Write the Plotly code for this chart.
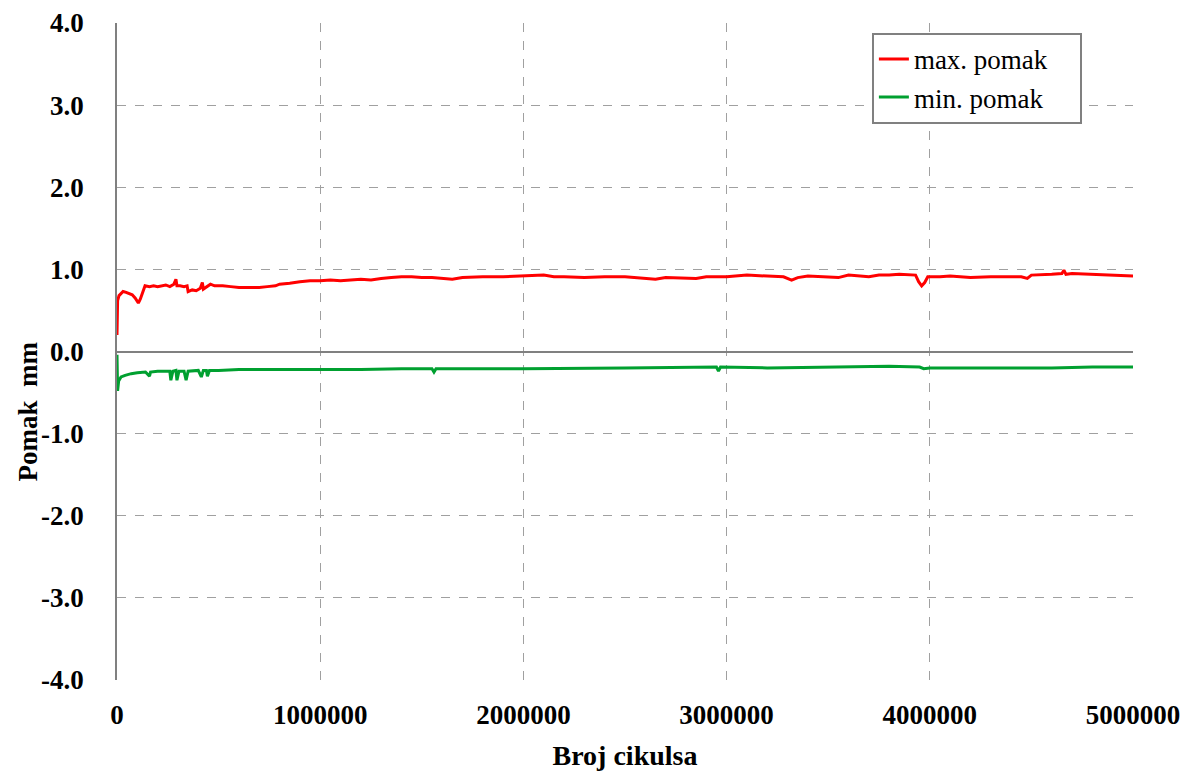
import plotly.graph_objects as go

# ---- data ----
max_x = [0, 3000, 10000, 20000, 30000, 45000, 60000, 75000, 90000, 105000, 115000, 125000,
         138000, 160000, 180000, 200000, 220000, 240000, 260000, 280000, 290000, 295000,
         310000, 330000, 345000, 350000, 370000, 390000, 410000, 420000, 425000, 440000,
         460000, 480000, 520000, 560000, 600000, 650000, 700000, 740000, 780000, 800000,
         850000, 900000, 950000, 1000000, 1050000, 1100000, 1150000, 1200000, 1250000,
         1300000, 1350000, 1400000, 1450000, 1500000, 1550000, 1600000, 1650000, 1700000,
         1800000, 1900000, 2000000, 2050000, 2100000, 2150000, 2200000, 2300000, 2400000,
         2500000, 2600000, 2650000, 2700000, 2800000, 2850000, 2900000, 3000000, 3100000,
         3200000, 3280000, 3320000, 3350000, 3400000, 3500000, 3550000, 3600000, 3650000,
         3700000, 3750000, 3800000, 3850000, 3900000, 3930000, 3945000, 3960000, 3975000,
         3990000, 4050000, 4100000, 4150000, 4200000, 4300000, 4400000, 4450000, 4480000,
         4500000, 4600000, 4650000, 4660000, 4670000, 4700000, 4800000, 4900000, 5000000]
max_y = [0.20, 0.62, 0.68, 0.70, 0.73, 0.72, 0.70, 0.69, 0.65, 0.59, 0.64, 0.72,
         0.80, 0.79, 0.80, 0.79, 0.80, 0.81, 0.79, 0.82, 0.88, 0.80,
         0.80, 0.79, 0.80, 0.73, 0.75, 0.74, 0.77, 0.84, 0.76, 0.79,
         0.82, 0.80, 0.80, 0.79, 0.78, 0.78, 0.78, 0.79, 0.80, 0.82,
         0.83, 0.85, 0.86, 0.86, 0.87, 0.86, 0.87, 0.88, 0.87,
         0.89, 0.90, 0.91, 0.91, 0.90, 0.90, 0.89, 0.88, 0.90,
         0.91, 0.91, 0.92, 0.92, 0.93, 0.91, 0.91, 0.90, 0.91,
         0.91, 0.89, 0.88, 0.90, 0.89, 0.89, 0.91, 0.91, 0.93,
         0.92, 0.91, 0.87, 0.90, 0.92, 0.91, 0.90, 0.93, 0.92,
         0.91, 0.93, 0.93, 0.94, 0.93, 0.93, 0.85, 0.80, 0.84,
         0.91, 0.91, 0.92, 0.91, 0.90, 0.91, 0.91, 0.91, 0.89,
         0.93, 0.94, 0.95, 0.99, 0.94, 0.95, 0.94, 0.93, 0.92]

min_x = [0, 3000, 8000, 20000, 40000, 70000, 100000, 140000, 160000, 165000, 200000,
         260000, 265000, 275000, 290000, 295000, 305000, 330000, 340000, 350000, 400000,
         415000, 425000, 440000, 445000, 455000, 500000, 600000, 800000, 1000000, 1200000,
         1400000, 1550000, 1560000, 1570000, 1800000, 2000000, 2500000, 2950000, 2960000,
         2970000, 3200000, 3500000, 3800000, 3950000, 3970000, 4000000, 4300000, 4600000,
         4800000, 5000000]
min_y = [-0.04, -0.48, -0.36, -0.31, -0.29, -0.27, -0.26, -0.25, -0.30, -0.25, -0.24,
         -0.24, -0.35, -0.24, -0.23, -0.35, -0.24, -0.24, -0.35, -0.24, -0.23,
         -0.31, -0.23, -0.23, -0.30, -0.23, -0.23, -0.22, -0.22, -0.22, -0.22,
         -0.21, -0.21, -0.25, -0.21, -0.21, -0.21, -0.20, -0.19, -0.24,
         -0.19, -0.20, -0.19, -0.18, -0.19, -0.21, -0.20, -0.20, -0.20,
         -0.19, -0.19]

x_ticks = [0, 1000000, 2000000, 3000000, 4000000, 5000000]
x_tick_labels = ["0", "1000000", "2000000", "3000000", "4000000", "5000000"]
y_ticks = [-4, -3, -2, -1, 0, 1, 2, 3, 4]
y_tick_labels = ["-4.0", "-3.0", "-2.0", "-1.0", "0.0", "1.0", "2.0", "3.0", "4.0"]
series_names = ["max. pomak", "min. pomak"]

FONT = "Liberation Serif"


def legend_label(txt):
    return ("<b><span style='font-weight:normal'>%s</span></b>"
            "&nbsp;&nbsp;&nbsp;&nbsp;" % txt)


fig = go.Figure()
fig.add_trace(go.Scatter(x=max_x, y=max_y, mode="lines",
                         name=legend_label(series_names[0]),
                         line=dict(color="#ff0000", width=3)))
fig.add_trace(go.Scatter(x=min_x, y=min_y, mode="lines",
                         name=legend_label(series_names[1]),
                         line=dict(color="#00a030", width=3)))

fig.update_layout(
    width=1196, height=772,
    margin=dict(l=117, r=63, t=23, b=92),
    paper_bgcolor="white", plot_bgcolor="white",
    font=dict(family=FONT, color="black", size=26),
    showlegend=True,
    legend=dict(x=0.743, y=0.985, xanchor="left", yanchor="top",
                bgcolor="white", bordercolor="#808080", borderwidth=2,
                font=dict(family=FONT, size=27, color="black"),
                tracegroupgap=0, itemwidth=30),
    xaxis=dict(range=[0, 5000000], tickmode="array", tickvals=x_ticks,
               ticktext=["<b>%s</b>" % t for t in x_tick_labels],
               tickfont=dict(family=FONT, size=27, color="black"),
               showgrid=True, gridcolor="#a0a0a0", griddash="dash", gridwidth=1,
               zeroline=False, showline=False, ticks="", ticklabelstandoff=16,
               automargin=False,
               title=dict(text="<b>Broj cikulsa</b>", font=dict(family=FONT, size=28, color="black"),
                          standoff=16)),
    yaxis=dict(range=[-4, 4], tickmode="array", tickvals=y_ticks,
               ticktext=["<b>%s</b>" % t for t in y_tick_labels],
               tickfont=dict(family=FONT, size=27, color="black"),
               showgrid=True, gridcolor="#a0a0a0", griddash="dash", gridwidth=1,
               zeroline=True, zerolinecolor="#808080", zerolinewidth=1.5,
               showline=True, linecolor="#808080", linewidth=1.5,
               ticks="", ticklabelstandoff=26, automargin=False),
    annotations=[dict(text="<b>Pomak&nbsp; mm</b>", textangle=-90,
                      xref="paper", yref="paper", x=-0.088, y=0.408,
                      xanchor="center", yanchor="middle", showarrow=False,
                      font=dict(family=FONT, size=27, color="black"))],
)

fig.write_html("out.html", post_script="document.body.style.margin='0px';",
               config={"displayModeBar": False})
